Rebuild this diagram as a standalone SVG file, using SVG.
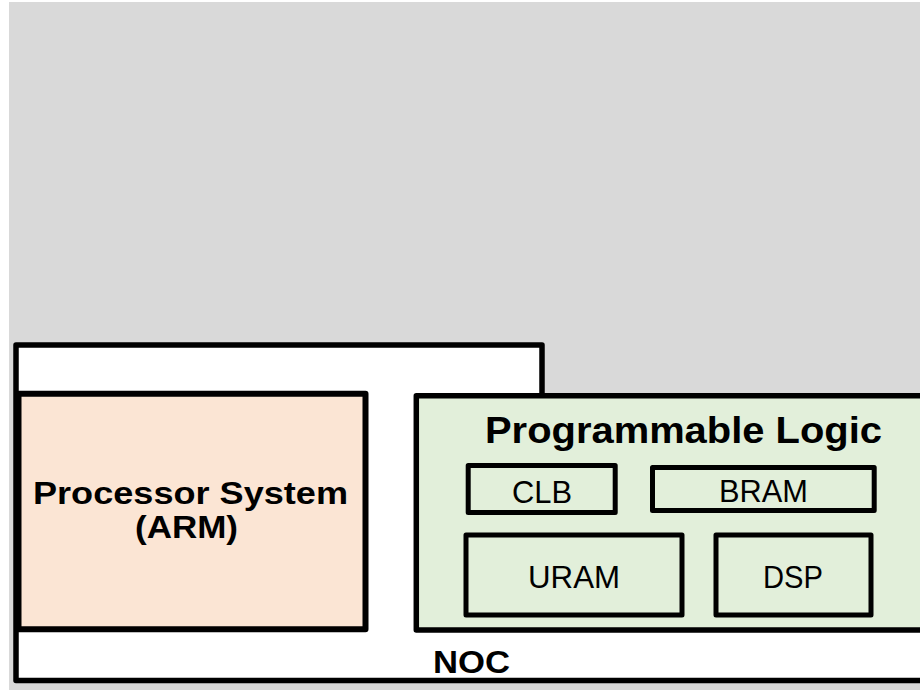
<svg xmlns="http://www.w3.org/2000/svg" width="920" height="690" viewBox="0 0 920 690">
  <style>
    .box { stroke: #000; stroke-linejoin: round; }
    .thick { stroke-width: 5.5; }
    .thin { stroke-width: 5; }
    .ps { fill: #fbe5d4; }
    .pl { fill: #e2efda; }
    .t { font-family: "Liberation Sans", Arial, sans-serif; fill: #000; text-anchor: middle; }
    .b { font-weight: bold; }
  </style>
  <!-- page -->
  <rect x="0" y="0" width="920" height="690" fill="#ffffff"/>
  <rect x="9" y="2" width="911" height="688" fill="#d9d9d9"/>

  <!-- network on chip frame -->
  <g id="noc">
    <path class="box thick" fill="#ffffff" d="M16,345 H542 V396 H930 V680.5 H16 Z"/>
    <text class="t b" x="471.5" y="673" font-size="31" textLength="77" lengthAdjust="spacingAndGlyphs">NOC</text>
  </g>

  <!-- processor system -->
  <g id="ps">
    <rect class="box ps" x="18.5" y="393.7" width="347" height="235.5" stroke-width="6"/>
    <text class="t b" x="190.5" y="504" font-size="31" textLength="315" lengthAdjust="spacingAndGlyphs">Processor System</text>
    <text class="t b" x="186.5" y="538" font-size="31" textLength="103" lengthAdjust="spacingAndGlyphs">(ARM)</text>
  </g>

  <!-- programmable logic -->
  <g id="pl">
    <rect class="box pl thick" x="416.3" y="395.7" width="520" height="234.3"/>
    <text class="t b" x="683.5" y="443" font-size="36.5" textLength="397" lengthAdjust="spacingAndGlyphs">Programmable Logic</text>
  </g>

  <g id="clb">
    <rect class="box pl thin" x="468.2" y="465.5" width="147" height="47"/>
    <text class="t" x="542" y="503" font-size="31.5" textLength="60" lengthAdjust="spacingAndGlyphs">CLB</text>
  </g>

  <g id="bram">
    <rect class="box pl thin" x="652.5" y="467.5" width="221.7" height="43"/>
    <text class="t" x="763.5" y="502" font-size="31.5" textLength="89" lengthAdjust="spacingAndGlyphs">BRAM</text>
  </g>

  <g id="uram">
    <rect class="box pl thin" x="466" y="535" width="216" height="80"/>
    <text class="t" x="574" y="588" font-size="31.5" textLength="92" lengthAdjust="spacingAndGlyphs">URAM</text>
  </g>

  <g id="dsp">
    <rect class="box pl thin" x="716" y="535" width="155" height="80"/>
    <text class="t" x="793" y="588" font-size="31.5" textLength="60" lengthAdjust="spacingAndGlyphs">DSP</text>
  </g>
</svg>
